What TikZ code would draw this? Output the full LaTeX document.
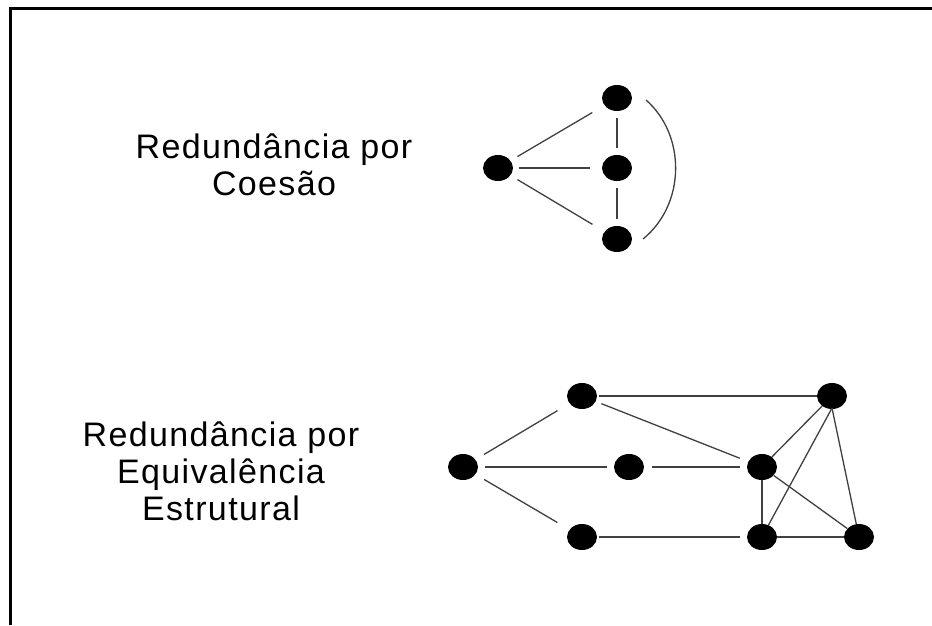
\documentclass[tikz,border=0pt]{standalone}
\usepackage{fontspec}
\setmainfont{Liberation Sans}
\newfontfamily\lblfont[LetterSpace=4]{Liberation Sans}
\usetikzlibrary{shapes.geometric}
\begin{document}
\begin{tikzpicture}[x=1pt,y=-1pt,
  dot/.style={ellipse,fill=black,draw=none,minimum width=30pt,minimum height=26pt,inner sep=0pt},
  lnk/.style={line width=1.3pt,draw=black!75},
  lbl/.style={align=center,inner sep=0pt,font=\lblfont\fontsize{34pt}{37pt}\selectfont}]
\useasboundingbox (0,0) rectangle (932,625);
\fill[white] (0,0) rectangle (932,625);
\draw[line width=3pt] (10,625) -- (10,8) -- (932,8);

% labels (base anchor = baseline of last line)
\node[lbl,anchor=base] (t1) at (274,195) {Redundância por\\Coesão};
\node[lbl,anchor=base] (t2) at (221,520) {Redundância por\\Equivalência\\Estrutural};

% top graph
\node[dot] (a) at (498,168) {};
\node[dot] (t) at (617,98) {};
\node[dot] (m) at (617,168) {};
\node[dot] (b) at (617,239) {};
\coordinate (ts) at (646,100);
\coordinate (be) at (643,239);
\draw[lnk,shorten <=8pt,shorten >=14pt] (a) -- (t);
\draw[lnk,shorten <=6pt,shorten >=12pt] (a) -- (m);
\draw[lnk,shorten <=8pt,shorten >=14pt] (a) -- (b);
\draw[lnk,shorten <=7pt,shorten >=7pt] (t) -- (m);
\draw[lnk,shorten <=7pt,shorten >=7pt] (m) -- (b);
\draw[lnk] (ts) .. controls (686,135) and (686,204) .. (be);

% bottom graph
\node[dot] (A) at (463,467) {};
\node[dot] (B) at (582,396) {};
\node[dot] (C) at (629,467) {};
\node[dot] (D) at (762,467) {};
\node[dot] (E) at (832,396) {};
\node[dot] (F) at (582,537) {};
\node[dot] (G) at (762,537) {};
\node[dot] (H) at (859,537) {};
\path (E.center) ++(0,12) coordinate (Eb);
\draw[lnk,shorten <=10pt,shorten >=14pt] (A) -- (B);
\draw[lnk,shorten <=7pt,shorten >=7pt] (A) -- (C);
\draw[lnk,shorten <=10pt,shorten >=14pt] (A) -- (F);
\draw[lnk,shorten <=2pt] (B) -- (E);
\draw[lnk,shorten <=6pt,shorten >=9pt] (B) -- (D);
\draw[lnk,shorten <=8pt,shorten >=7pt] (C) -- (D);
\draw[lnk,shorten <=2pt,shorten >=7pt] (F) -- (G);
\draw[lnk] (D) -- (E);
\draw[lnk] (D) -- (G);
\draw[lnk] (D) -- (H);
\draw[lnk] (Eb) -- (G);
\draw[lnk] (Eb) -- (H);
\draw[lnk] (G) -- (H);
\end{tikzpicture}
\end{document}
